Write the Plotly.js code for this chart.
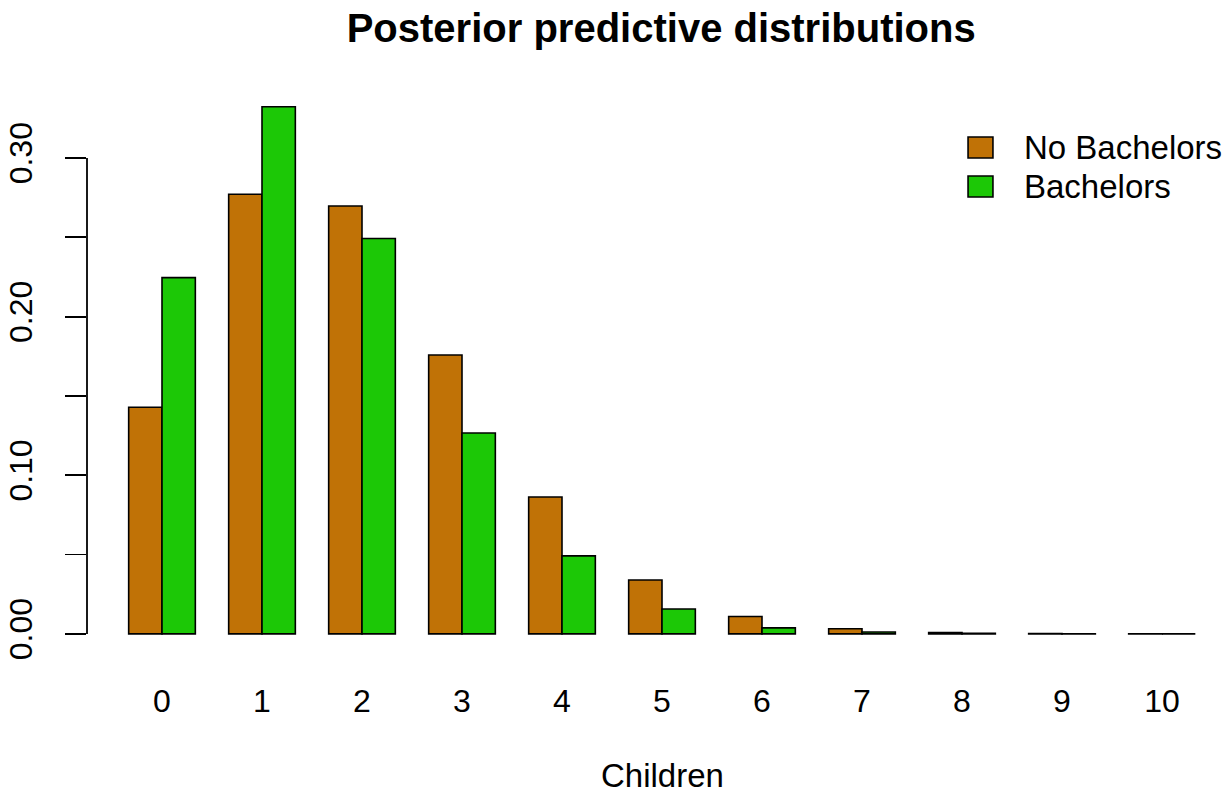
<!DOCTYPE html>
<html>
<head>
<meta charset="utf-8">
<script src="https://cdn.plot.ly/plotly-3.0.1.min.js"></script>
<style>html,body{margin:0;padding:0;background:#fff;}#chart{width:1229px;height:796px;}</style>
</head>
<body>
<div id="chart"></div>
<script>
const children = [0, 1, 2, 3, 4, 5, 6, 7, 8, 9, 10];
const noBachelors = [0.1429, 0.2771, 0.2697, 0.1758, 0.0863, 0.0340, 0.0110, 0.0032, 0.0009, 0.0002, 0.0001];
const bachelors   = [0.2246, 0.3323, 0.2492, 0.1266, 0.0492, 0.0157, 0.0038, 0.0012, 0.0003, 0.0001, 0.0000];
const seriesNames = ["No Bachelors", "Bachelors"];
const seriesColors = ["#C07206", "#1CC806"];
const yTickVals = [0, 0.05, 0.10, 0.15, 0.20, 0.25, 0.30];
const yTickText = ["0.00", "", "0.10", "", "0.20", "", "0.30"];

const font = "Liberation Sans, Arial, Helvetica, sans-serif";

const traces = [noBachelors, bachelors].map((vals, i) => ({
  type: "bar",
  x: children,
  y: vals,
  name: seriesNames[i],
  marker: {color: seriesColors[i], line: {color: "#000", width: 1.6}},
  showlegend: false,
  hoverinfo: "x+y"
}));

// legend geometry (paper coords)
const legX0 = 0.7715, legX1 = 0.7933, legTextX = 0.8187;
const legRows = [[0.8719, 0.9088], [0.8035, 0.8404]];

const shapes = [
  {type: "line", xref: "paper", yref: "y", x0: 0, x1: 0, y0: 0, y1: 0.30, line: {color: "#000", width: 1.8}}
];
const annotations = [
  {xref: "paper", yref: "paper", x: 0.504, y: (655 - 775) / 570, xanchor: "center", yanchor: "middle",
   text: "Children", showarrow: false, font: {family: font, size: 33, color: "#000"}}
];
legRows.forEach((r, i) => {
  shapes.push({type: "rect", xref: "paper", yref: "paper", x0: legX0, x1: legX1, y0: r[0], y1: r[1],
    fillcolor: seriesColors[i], line: {color: "#000", width: 1.6}});
  annotations.push({xref: "paper", yref: "paper", x: legTextX, y: (r[0] + r[1]) / 2,
    xanchor: "left", yanchor: "middle", text: seriesNames[i], showarrow: false,
    font: {family: font, size: 33, color: "#000"}});
});

const layout = {
  width: 1229, height: 796,
  margin: {l: 87, r: 0, t: 85, b: 141},
  paper_bgcolor: "#fff", plot_bgcolor: "#fff",
  font: {family: font, size: 32, color: "#000"},
  title: {text: "<b>Posterior predictive distributions</b>", xref: "container", yref: "container",
    x: 0.538, y: 1 - 28 / 796, xanchor: "center", yanchor: "middle",
    font: {family: font, size: 40, color: "#000"}},
  barmode: "group", bargap: 1 / 3, bargroupgap: 0,
  xaxis: {range: [-0.75, 10.67], tickmode: "array", tickvals: children, ticktext: children.map(String),
    showgrid: false, zeroline: false, showline: false, ticks: "", ticklabelstandoff: 24,
    tickfont: {family: font, size: 32, color: "#000"}, fixedrange: true},
  yaxis: {range: [-0.0133, 0.346], tickmode: "array", tickvals: yTickVals, ticktext: yTickText,
    showgrid: false, zeroline: false, showline: false, ticks: "outside", ticklen: 21, tickwidth: 1.8,
    tickcolor: "#000", tickangle: -90, ticklabelstandoff: 20,
    tickfont: {family: font, size: 32, color: "#000"}, fixedrange: true},
  shapes: shapes,
  annotations: annotations
};

Plotly.newPlot("chart", traces, layout, {displayModeBar: false, staticPlot: true});
</script>
</body>
</html>
